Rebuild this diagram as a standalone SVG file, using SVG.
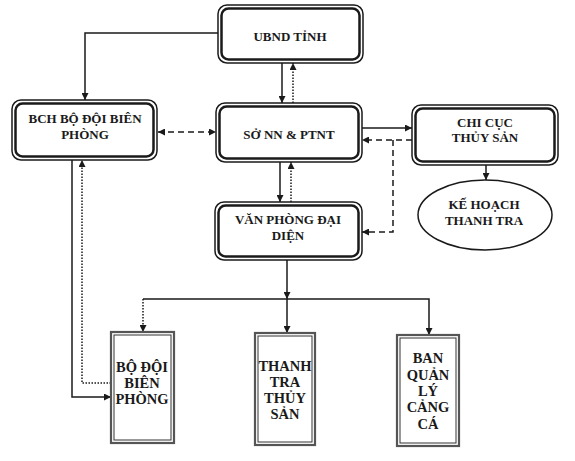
<svg xmlns="http://www.w3.org/2000/svg" width="575" height="461" viewBox="0 0 575 461">
<style>
.t{font-family:"Liberation Serif","Times New Roman",serif;font-weight:bold;font-size:13px;fill:#1a1a1a;text-anchor:middle}
.tb{font-size:14.5px}
.ro{fill:#fff;stroke:#1a1a1a;stroke-width:1.5}
.ri{fill:none;stroke:#1a1a1a;stroke-width:2.5}
.so{fill:#fff;stroke:#555;stroke-width:2.2}
.si{fill:none;stroke:#333;stroke-width:1}
.c{fill:none;stroke:#1a1a1a;stroke-width:1.5}
.dot{stroke-dasharray:1.5 1.5}
.dash{stroke-dasharray:6 4}
</style>
<defs>
<marker id="ar" viewBox="0 0 8 8" refX="8" refY="4" markerWidth="7" markerHeight="7" markerUnits="userSpaceOnUse" orient="auto-start-reverse">
<path d="M0,0 L8,4 L0,8 z" fill="#1a1a1a"/>
</marker>
</defs>
<rect width="575" height="461" fill="#fff"/>
<g id="connectors">
<path class="c" d="M218,33 H85 V100" marker-end="url(#ar)"/>
<path class="c" d="M282,63 V103" marker-end="url(#ar)"/>
<path class="c dot" d="M293,103 V63" marker-end="url(#ar)"/>
<path class="c dash" d="M158,132 H216" marker-start="url(#ar)" marker-end="url(#ar)"/>
<path class="c" d="M280,162 V202" marker-end="url(#ar)"/>
<path class="c dot" d="M291,202 V162" marker-end="url(#ar)"/>
<path class="c" d="M362,128 H412" marker-end="url(#ar)"/>
<path class="c dash" d="M412,140 H362" marker-end="url(#ar)"/>
<path class="c dash" d="M393,140 V232 H362" marker-end="url(#ar)"/>
<path class="c" d="M486,165 V180" marker-end="url(#ar)"/>
<path class="c" d="M72,160 V397 H111" marker-end="url(#ar)"/>
<path class="c dot" d="M111,383 H82 V160" marker-end="url(#ar)"/>
<path class="c" d="M287,260 V299" marker-end="url(#ar)"/>
<path class="c" d="M287,299 V333" marker-end="url(#ar)"/>
<path class="c" d="M143,299 H429 V335" marker-end="url(#ar)"/>
<path class="c dot" d="M143,299 V332" marker-end="url(#ar)"/>
</g>
<g id="ubnd">
<rect class="ro" x="218" y="5" width="145" height="58" rx="9"/>
<rect class="ri" x="221.5" y="8.5" width="138" height="51" rx="7"/>
<text class="t" x="290" y="41">UBND TỈNH</text>
</g>
<g id="bch">
<rect class="ro" x="12" y="100" width="145" height="60" rx="9"/>
<rect class="ri" x="15.5" y="103.5" width="138" height="53" rx="7"/>
<text class="t" x="85" y="123">BCH BỘ ĐỘI BIÊN</text>
<text class="t" x="85" y="139">PHÒNG</text>
</g>
<g id="so">
<rect class="ro" x="216" y="103" width="146" height="59" rx="9"/>
<rect class="ri" x="219.5" y="106.5" width="139" height="52" rx="7"/>
<text class="t" x="289" y="139">SỞ NN &amp; PTNT</text>
</g>
<g id="chicuc">
<rect class="ro" x="412" y="105" width="146" height="60" rx="9"/>
<rect class="ri" x="415.5" y="108.5" width="139" height="53" rx="7"/>
<text class="t" x="485" y="127">CHI CỤC</text>
<text class="t" x="485" y="142">THỦY SẢN</text>
</g>
<g id="vanphong">
<rect class="ro" x="215" y="202" width="147" height="58" rx="9"/>
<rect class="ri" x="218.5" y="205.5" width="140" height="51" rx="7"/>
<text class="t" x="288" y="224">VĂN PHÒNG ĐẠI</text>
<text class="t" x="288" y="240">DIỆN</text>
</g>
<g id="kehoach">
<ellipse cx="485" cy="215" rx="67" ry="35" fill="#fff" stroke="#1a1a1a" stroke-width="1.5"/>
<text class="t" x="484" y="209">KẾ HOẠCH</text>
<text class="t" x="484" y="225">THANH TRA</text>
</g>
<g id="bodoi">
<rect class="so" x="111" y="332" width="63" height="111"/>
<rect class="si" x="114" y="335" width="57" height="105"/>
<text class="t tb" x="142" y="372">BỘ ĐỘI</text>
<text class="t tb" x="142" y="388">BIÊN</text>
<text class="t tb" x="142" y="404">PHÒNG</text>
</g>
<g id="thanhtra">
<rect class="so" x="255" y="333" width="60" height="112"/>
<rect class="si" x="258" y="336" width="54" height="106"/>
<text class="t tb" x="285" y="371">THANH</text>
<text class="t tb" x="285" y="387">TRA</text>
<text class="t tb" x="285" y="403">THỦY</text>
<text class="t tb" x="285" y="419">SẢN</text>
</g>
<g id="banquanly">
<rect class="so" x="397" y="335" width="62" height="111"/>
<rect class="si" x="400" y="338" width="56" height="105"/>
<text class="t tb" x="428" y="363">BAN</text>
<text class="t tb" x="428" y="380">QUẢN</text>
<text class="t tb" x="428" y="396">LÝ</text>
<text class="t tb" x="428" y="412">CẢNG</text>
<text class="t tb" x="428" y="429">CÁ</text>
</g>
</svg>
